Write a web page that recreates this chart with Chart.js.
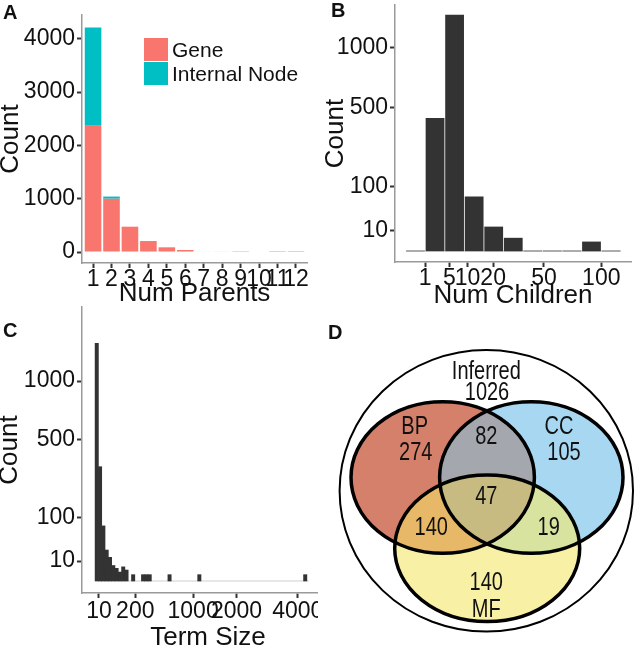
<!DOCTYPE html>
<html>
<head>
<meta charset="utf-8">
<script src="https://cdn.jsdelivr.net/npm/chart.js@4.4.1/dist/chart.umd.min.js"></script>
<style>
  html, body { margin: 0; padding: 0; background: #fff; }
  #fig { position: relative; width: 636px; height: 647px; overflow: hidden; font-family: 'Liberation Sans', Arial, sans-serif; }
  #fig canvas { position: absolute; }
  .clip { position: absolute; overflow: hidden; }
  .clip canvas { left: 0; top: 0; }
  .tag { position: absolute; font-weight: bold; font-size: 20px; line-height: 1; color: #111; }
</style>
</head>
<body>
<div id="fig">
  <canvas id="chartA" width="318" height="310" style="left:0;top:0"></canvas>
  <canvas id="chartB" width="318" height="310" style="left:318px;top:0"></canvas>
  <!-- panel C runs on under panel D, so only its left 318px show -->
  <div class="clip" style="left:0;top:300px;width:318px;height:347px">
    <canvas id="chartC" width="340" height="347"></canvas>
  </div>
  <canvas id="chartD" width="318" height="337" style="left:318px;top:310px"></canvas>
  <div class="tag" style="left:3px;top:2px">A</div>
  <div class="tag" style="left:331px;top:0px">B</div>
  <div class="tag" style="left:3px;top:320px">C</div>
  <div class="tag" style="left:328px;top:322px">D</div>
</div>
<script>
// A: number of parents per term
const parentLabels = ['1', '2', '3', '4', '5', '6', '7', '8', '9', '10', '11', '12'];
const geneCounts = [2370, 1000, 475, 206, 88, 38, 10, 8, 3, 0, 2, 2];
const internalCounts = [1840, 40, 0, 0, 0, 0, 0, 0, 0, 0, 0, 0];
const parentYTicks = [0, 1000, 2000, 3000, 4000];

// B: number of children (bins are one step wide on the sqrt axis)
const childBinStart = [0, 1, 4, 9, 16, 25, 36, 49, 64, 81, 100];
const childCounts = [0, 426, 1347, 71, 14, 4, 0, 0, 0, 2, 0];
const childXTicks = [1, 5, 10, 20, 50, 100];

// C: term size
const termBinStart = [4, 9, 16, 25, 36, 49, 64, 81, 100, 121, 169, 256, 289, 324, 576, 1089, 4225];
const termCounts = [1414, 327, 76, 24, 14, 6, 4, 2, 5, 3, 1, 1, 1, 1, 1, 1, 1];
const termXTicks = [10, 200, 1000, 2000, 4000];

const countTicks = [10, 100, 500, 1000];

// D: Venn counts
const vennRegions = ['Inferred', 'BP', 'CC', 'MF', 'BP&CC', 'BP&MF', 'CC&MF', 'BP&CC&MF'];
const vennCounts = [1026, 274, 105, 140, 82, 140, 19, 47];
const vennSetNames = ['Inferred', 'BP', 'CC', 'MF'];

const FONT = "'Liberation Sans', Arial, sans-serif";
const INK = '#111111';

Chart.defaults.font.family = FONT;
Chart.defaults.color = INK;

const tickFont = { size: 23, lineHeight: 1 };
const titleFont = { size: 26, lineHeight: 1 };

function axis(extra) {
    return Object.assign({
        type: 'linear',
        offset: false,
        grid: {
            display: true,
            drawOnChartArea: false,
            offset: false,
            drawTicks: true,
            tickLength: 5,
            tickWidth: 2,
            tickColor: '#333333',
        },
        border: { display: true, color: '#9a9a9a', width: 1.5 },
    }, extra);
}

// fixed axis box sizes, and no extra room reserved for overhanging labels
const fitX = (h) => (s) => { s.height = h; s.paddingLeft = 0; s.paddingRight = 0; };
const fitY = (w) => (s) => { s.width = w; s.paddingTop = 0; s.paddingBottom = 0; };

function xTicks(pad, label) {
    return {
        font: tickFont,
        padding: pad,
        autoSkip: false,
        maxRotation: 0,
        minRotation: 0,
        callback: label,
    };
}

function yTicks(label) {
    return { font: tickFont, padding: 2, autoSkip: false, callback: label };
}

const fromSqrt = (v) => String(Math.round(v * v));

const keyLegend = {
    id: 'keyLegend',
    afterDraw(chart, args, opts) {
        if (! opts.show) {
            return;
        }
        const { ctx } = chart;
        ctx.save();
        ctx.font = `21px ${FONT}`;
        ctx.textBaseline = 'middle';
        chart.data.datasets.forEach((ds, i) => {
            const y = opts.y + i * opts.step;
            ctx.fillStyle = ds.backgroundColor;
            ctx.fillRect(opts.x, y, opts.box, opts.step - 1);
            ctx.fillStyle = INK;
            ctx.fillText(ds.label, opts.x + opts.box + 4, y + opts.step / 2 + 1);
        });
        ctx.restore();
    },
};

// ---------- A ----------
new Chart(document.getElementById('chartA'), {
    type: 'bar',
    data: {
        labels: parentLabels,
        datasets: [
            {
                label: 'Gene',
                data: geneCounts.map((v, i) => ({ x: i + 1, y: v })),
                backgroundColor: '#F8766D',
            },
            {
                label: 'Internal Node',
                data: internalCounts.map((v, i) => ({ x: i + 1, y: v })),
                backgroundColor: '#00BFC4',
            },
        ],
    },
    options: {
        responsive: false,
        animation: false,
        layout: { padding: { left: 0, top: 15, right: 11, bottom: 0 } },
        datasets: { bar: { categoryPercentage: 1, barPercentage: 0.9, borderWidth: 0 } },
        plugins: {
            legend: { display: false },
            tooltip: { enabled: false },
            keyLegend: { show: true, x: 144, y: 38, box: 24, step: 24 },
        },
        scales: {
            x: axis({
                stacked: true,
                min: 0.4,
                max: 12.6,
                afterBuildTicks: (s) => { s.ticks = parentLabels.map((_, i) => ({ value: i + 1 })); },
                afterFit: fitX(47),
                ticks: xTicks(0, (v, i) => parentLabels[i]),
                title: { display: true, text: 'Num Parents', font: titleFont, padding: { top: 0, bottom: 3 } },
            }),
            y: axis({
                stacked: true,
                min: -206,
                max: 4446,
                afterBuildTicks: (s) => { s.ticks = parentYTicks.map((v) => ({ value: v })); },
                afterFit: fitY(82),
                ticks: yTicks((v) => String(v)),
                title: { display: true, text: 'Count', font: titleFont, padding: { top: -2, bottom: 0 } },
            }),
        },
    },
    plugins: [keyLegend],
});

// ---------- B ----------
new Chart(document.getElementById('chartB'), {
    type: 'bar',
    data: {
        datasets: [
            {
                label: 'Num Children',
                data: childBinStart.map((b, i) => ({ x: Math.sqrt(b) + 0.5, y: Math.sqrt(childCounts[i]) })),
                backgroundColor: '#333333',
                categoryPercentage: 1,
                barPercentage: 1,
                borderWidth: 0,
                order: 1,
            },
            {
                type: 'line',
                data: [
                    { x: Math.sqrt(childBinStart[0]), y: 0 },
                    { x: Math.sqrt(childBinStart[childBinStart.length - 1]) + 1, y: 0 },
                ],
                borderColor: '#cfcfcf',
                borderWidth: 1,
                pointRadius: 0,
                order: 2,
            },
        ],
    },
    options: {
        responsive: false,
        animation: false,
        layout: { padding: { left: 0, top: 5, right: 5, bottom: 0 } },
        plugins: { legend: { display: false }, tooltip: { enabled: false } },
        scales: {
            x: axis({
                min: -0.547,
                max: 11.52,
                afterBuildTicks: (s) => { s.ticks = childXTicks.map((v) => ({ value: Math.sqrt(v) })); },
                afterFit: fitX(48),
                ticks: xTicks(0, fromSqrt),
                title: { display: true, text: 'Num Children', font: titleFont, padding: { top: 0, bottom: 1 } },
            }),
            y: axis({
                min: -1.71,
                max: 38.26,
                afterBuildTicks: (s) => { s.ticks = countTicks.map((v) => ({ value: Math.sqrt(v) })); },
                afterFit: fitY(77),
                ticks: yTicks(fromSqrt),
                title: { display: true, text: 'Count', font: titleFont, padding: { top: 5, bottom: 0 } },
            }),
        },
    },
});

// ---------- C ----------
new Chart(document.getElementById('chartC'), {
    type: 'bar',
    data: {
        datasets: [
            {
                label: 'Term Size',
                data: termBinStart.map((b, i) => ({ x: Math.sqrt(b) + 0.5, y: Math.sqrt(termCounts[i]) })),
                backgroundColor: '#333333',
                categoryPercentage: 1,
                barPercentage: 1,
                borderWidth: 0,
                order: 1,
            },
            {
                type: 'line',
                data: [
                    { x: Math.sqrt(termBinStart[0]), y: 0 },
                    { x: Math.sqrt(termBinStart[termBinStart.length - 1]) + 1.5, y: 0 },
                ],
                borderColor: '#cfcfcf',
                borderWidth: 1,
                pointRadius: 0,
                order: 2,
            },
        ],
    },
    options: {
        responsive: false,
        animation: false,
        layout: { padding: { left: 0, top: 7, right: 6, bottom: 0 } },
        plugins: { legend: { display: false }, tooltip: { enabled: false } },
        scales: {
            x: axis({
                min: -1.96,
                max: 74.2,
                afterBuildTicks: (s) => { s.ticks = termXTicks.map((v) => ({ value: Math.sqrt(v) })); },
                afterFit: fitX(54),
                ticks: xTicks(2, fromSqrt),
                title: { display: true, text: 'Term Size', font: titleFont, padding: { top: 0, bottom: -3.5 } },
            }),
            y: axis({
                min: -1.9,
                max: 43.35,
                afterBuildTicks: (s) => { s.ticks = countTicks.map((v) => ({ value: Math.sqrt(v) })); },
                afterFit: fitY(82),
                ticks: yTicks(fromSqrt),
                title: { display: true, text: 'Count', font: titleFont, padding: { top: -3, bottom: 0 } },
            }),
        },
    },
});

// ---------- D ----------
// geometry of the diagram, in panel units (1 unit ~ 1px), origin at the outer circle centre
const vennShapes = {
    Inferred: { cx: 0, cy: 0, rx: 146.7, ry: 140.8 },
    BP: { cx: -43.6, cy: 13.3, rx: 91.7, ry: 75.8 },
    CC: { cx: 45, cy: 13.3, rx: 91.7, ry: 75.8 },
    MF: { cx: 0.9, cy: -57.5, rx: 92.5, ry: 73.3 },
};
const vennFill = {
    BP: '#D5806A',
    CC: '#A8D8F1',
    MF: '#F8F0A4',
    'BP&CC': '#A4A7AE',
    'BP&MF': '#E6B867',
    'CC&MF': '#D8E3A0',
    'BP&CC&MF': '#C7BB82',
};
const countSpot = {
    Inferred: [0.7, 98.1],
    BP: [-70.6, 37.5],
    CC: [77.7, 37.5],
    MF: [0, -92.5],
    'BP&CC': [0, 54.1],
    'BP&MF': [-55, -37.5],
    'CC&MF': [62.4, -37.5],
    'BP&CC&MF': [0, -5.9],
};
const nameSpot = {
    Inferred: [0, 118.5],
    BP: [-71.6, 64.1],
    CC: [72.7, 64.1],
    MF: [0, -119.2],
};

const vennPlugin = {
    id: 'venn',
    beforeDatasetsDraw(chart) {
        const { ctx, scales: { x, y } } = chart;
        const sx = x.getPixelForValue(1) - x.getPixelForValue(0);
        const sy = y.getPixelForValue(0) - y.getPixelForValue(1);
        const path = (name) => {
            const e = vennShapes[name];
            ctx.beginPath();
            ctx.ellipse(x.getPixelForValue(e.cx), y.getPixelForValue(e.cy), e.rx * sx, e.ry * sy, 0, 0, Math.PI * 2);
        };

        ctx.save();
        path('Inferred');
        ctx.fillStyle = '#ffffff';
        ctx.fill();
        ctx.lineWidth = 2;
        ctx.strokeStyle = '#000000';
        ctx.stroke();

        ['BP', 'CC', 'MF'].forEach((n) => {
            path(n);
            ctx.fillStyle = vennFill[n];
            ctx.fill();
        });

        vennRegions.filter((r) => r.includes('&')).forEach((r) => {
            const parts = r.split('&');
            ctx.save();
            parts.slice(0, -1).forEach((p) => { path(p); ctx.clip(); });
            path(parts[parts.length - 1]);
            ctx.fillStyle = vennFill[r];
            ctx.fill();
            ctx.restore();
        });

        ctx.lineWidth = 3.5;
        ['BP', 'CC', 'MF'].forEach((n) => {
            path(n);
            ctx.stroke();
        });
        ctx.restore();
    },
    afterDatasetsDraw(chart) {
        const { ctx, scales: { x, y } } = chart;
        const meta = chart.getDatasetMeta(0);
        // the labels use a condensed face: squeeze regular Liberation Sans horizontally
        const squeeze = 0.8;
        const label = (text, px, py) => {
            ctx.save();
            ctx.translate(px, py);
            ctx.scale(squeeze, 1);
            ctx.fillText(text, 0, 0);
            ctx.restore();
        };
        ctx.save();
        ctx.font = `25px ${FONT}`;
        ctx.fillStyle = '#111111';
        ctx.textAlign = 'center';
        ctx.textBaseline = 'middle';
        meta.data.forEach((pt, i) => label(String(vennCounts[i]), pt.x, pt.y));
        vennSetNames.forEach((n) => {
            label(n, x.getPixelForValue(nameSpot[n][0]), y.getPixelForValue(nameSpot[n][1]));
        });
        ctx.restore();
    },
};

new Chart(document.getElementById('chartD'), {
    type: 'scatter',
    data: {
        datasets: [
            {
                label: 'GO terms',
                data: vennRegions.map((r) => ({ x: countSpot[r][0], y: countSpot[r][1] })),
                pointRadius: 0,
            },
        ],
    },
    options: {
        responsive: false,
        animation: false,
        layout: { padding: 0 },
        plugins: { legend: { display: false }, tooltip: { enabled: false } },
        scales: {
            x: { display: false, min: -168.3, max: 149.7 },
            y: { display: false, min: -156.2, max: 180.8 },
        },
    },
    plugins: [vennPlugin],
});
</script>
</body>
</html>
